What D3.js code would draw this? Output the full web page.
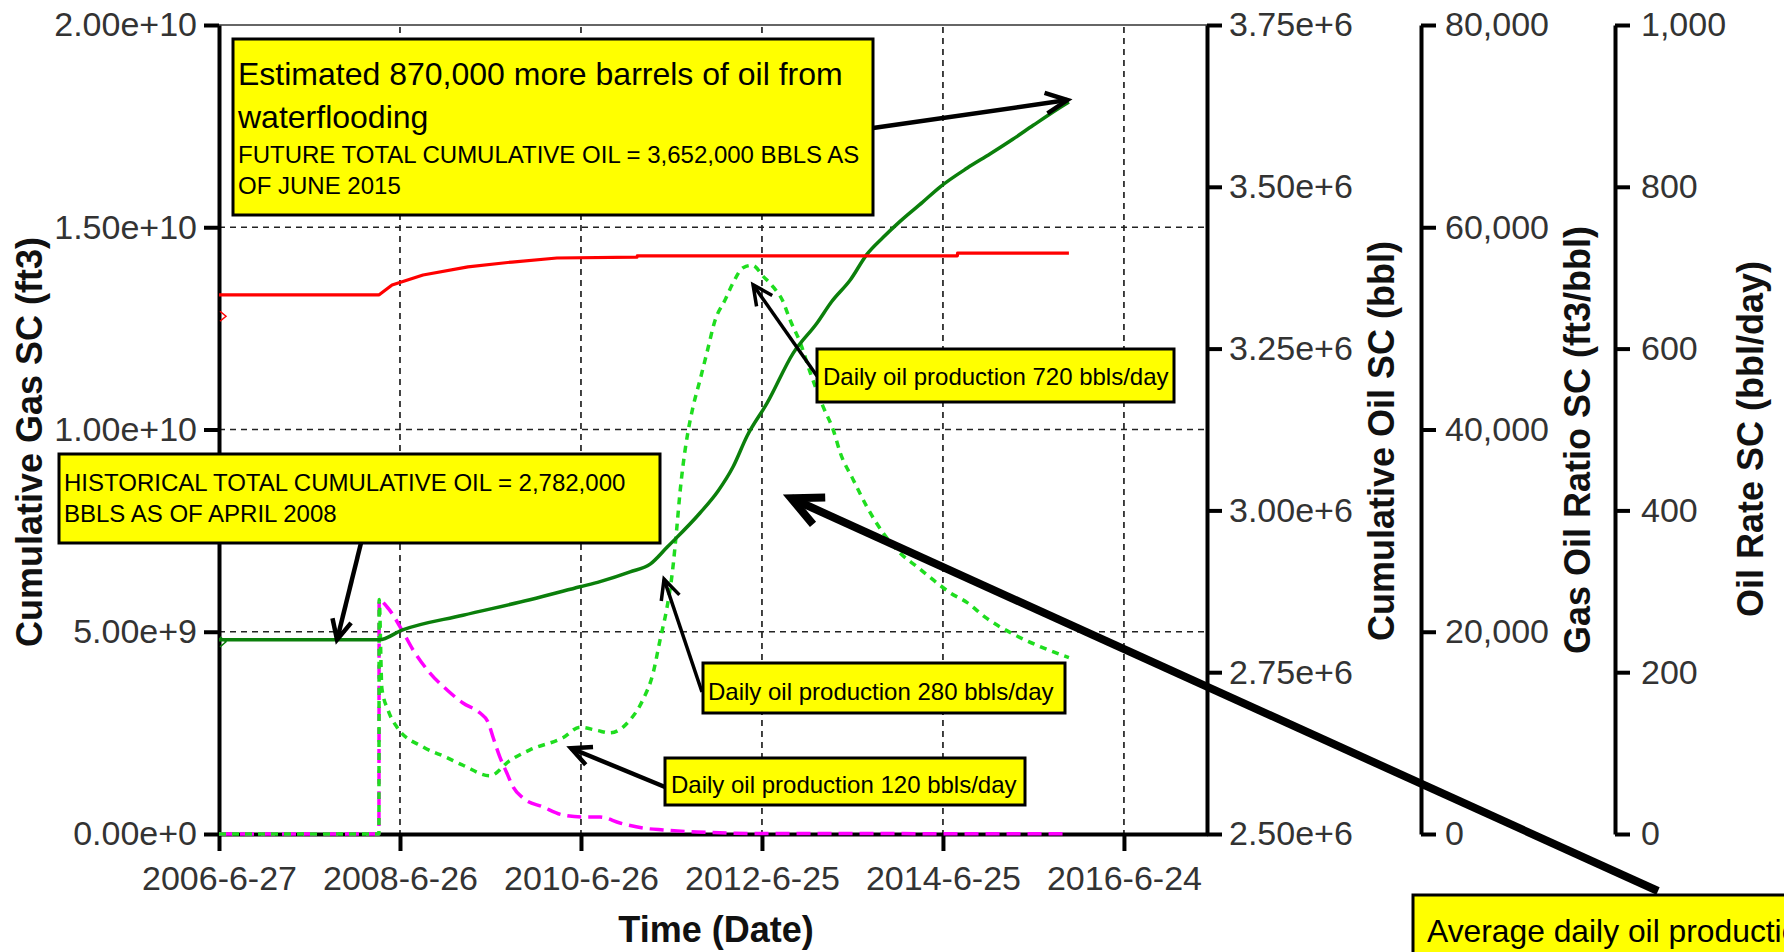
<!DOCTYPE html>
<html><head><meta charset="utf-8">
<script src="https://cdn.jsdelivr.net/npm/d3@7"></script>
<style>body{margin:0;background:#fff}svg{display:block}</style>
</head><body><svg id="c" width="1784" height="952"></svg>
<script>
// ---------- data ----------
const xTickDates = ["2006-06-27","2008-06-26","2010-06-26","2012-06-25","2014-06-25","2016-06-24"];
const gasTicks = [0, 5e9, 1e10, 1.5e10, 2e10];
const cumOilTicks = [2.5e6, 2.75e6, 3.0e6, 3.25e6, 3.5e6, 3.75e6];
const gorTicks = [0, 20000, 40000, 60000, 80000];
const rateTicks = [0, 200, 400, 600, 800, 1000];

// Cumulative Gas SC (ft3)
const cumGas = [
 ["2006-06-27",13.33e9],["2008-04-03",13.33e9],["2008-05-25",13.57e9],["2008-09-27",13.82e9],
 ["2009-03-27",14.02e9],["2009-09-21",14.14e9],["2010-03-21",14.24e9],["2011-02-07",14.26e9],
 ["2011-02-08",14.29e9],["2014-08-22",14.29e9],["2014-08-23",14.36e9],["2015-11-15",14.36e9]
];
// Cumulative Oil SC (bbl)
const cumOil = [
 ["2006-06-27",2.800e6],["2008-04-03",2.800e6],["2008-07-04",2.815e6],["2009-03-07",2.838e6],
 ["2009-12-02",2.862e6],["2010-06-22",2.882e6],["2010-09-11",2.890e6],["2011-01-10",2.905e6],
 ["2011-04-01",2.917e6],["2011-06-08",2.943e6],["2011-10-19",2.996e6],["2011-12-31",3.030e6],
 ["2012-02-29",3.067e6],["2012-04-26",3.115e6],["2012-07-16",3.166e6],["2012-10-29",3.243e6],
 ["2013-02-03",3.290e6],["2013-04-01",3.322e6],["2013-06-16",3.356e6],["2013-08-23",3.396e6],
 ["2013-10-27",3.422e6],["2014-01-04",3.447e6],["2014-04-03",3.476e6],["2014-06-14",3.500e6],
 ["2014-10-01",3.529e6],["2015-01-02",3.551e6],["2015-04-01",3.573e6],["2015-06-24",3.595e6],
 ["2015-10-04",3.621e6],["2015-11-15",3.631e6]
];
// Gas Oil Ratio SC (ft3/bbl)
const gasOilRatio = [
 ["2006-06-27",0],["2008-04-02",0],["2008-04-03",23140],["2008-05-05",22450],["2008-07-04",20170],
 ["2008-08-18",18190],["2008-10-25",15920],["2009-01-02",14240],["2009-03-07",12950],
 ["2009-05-15",11960],["2009-06-16",11080],["2009-07-06",9590],["2009-08-03",7610],
 ["2009-08-31",6030],["2009-09-25",4650],["2009-11-04",3560],["2010-01-24",2670],
 ["2010-04-14",1880],["2010-07-05",1680],["2010-09-11",1680],["2010-11-30",1090],
 ["2011-03-03",590],["2011-05-23",400],["2011-10-07",200],["2012-07-01",50],["2015-11-15",30]
];
// Oil Rate SC (bbl/day)
const oilRate = [
 ["2006-06-27",0],["2008-04-02",0],["2008-04-03",290],["2008-04-14",180],["2008-05-09",153],
 ["2008-06-14",132],["2008-10-01",107],["2008-12-28",95],["2009-03-07",85],["2009-06-24",72],
 ["2009-09-13",91],["2009-12-02",104],["2010-04-14",119],["2010-06-22",132],["2010-08-30",128],
 ["2010-10-21",125],["2011-01-10",141],["2011-03-03",166],["2011-04-13",199],["2011-05-11",240],
 ["2011-06-08",280],["2011-06-29",322],["2011-07-18",380],["2011-07-30",421],["2011-08-11",454],
 ["2011-08-31",496],["2011-09-21",528],["2011-10-19",561],["2011-11-16",595],["2011-12-19",635],
 ["2012-01-28",660],["2012-02-29",681],["2012-04-10",700],["2012-05-17",703],["2012-07-01",689],
 ["2012-08-10",676],["2012-09-15",660],["2012-10-17",635],["2012-11-27",607],["2013-01-06",570],
 ["2013-02-27",528],["2013-04-09",499],["2013-05-07",471],["2013-06-28",438],["2013-08-23",404],
 ["2013-10-27",372],["2014-01-04",347],["2014-03-14",330],["2014-05-17",314],["2014-07-25",298],
 ["2014-10-01",286],["2014-12-12",268],["2015-04-05",247],["2015-07-27",231],["2015-11-15",218]
];
const startMarkers = [["2006-06-27",12.8e9,"#ff0000"],["2006-06-27",4.75e9,"#0b7f0b"]];

// ---------- layout ----------
const W = 1784, H = 952;
const L = 219, R = 1207, T = 25, B = 834;
const FONT = "'Liberation Sans', Arial, Helvetica, sans-serif";
const parse = d3.utcParse("%Y-%m-%d");

const svg = d3.select("#c");
svg.append("rect").attr("width", W).attr("height", H).attr("fill", "#fff");

const x = d3.scaleUtc().domain([parse("2006-06-27"), parse("2017-05-25")]).range([L, R]);
const yGas = d3.scaleLinear().domain([0, 2e10]).range([B, T]);
const yOil = d3.scaleLinear().domain([2.5e6, 3.75e6]).range([B, T]);
const yGor = d3.scaleLinear().domain([0, 80000]).range([B, T]);
const yRate = d3.scaleLinear().domain([0, 1000]).range([B, T]);
const xTicks = xTickDates.map(parse);

// grid
const grid = svg.append("g").attr("stroke", "#222").attr("stroke-width", 1.7).attr("stroke-dasharray", "6,5");
xTicks.slice(1).forEach(d => grid.append("line").attr("x1", x(d)).attr("x2", x(d)).attr("y1", T + 2).attr("y2", B));
gasTicks.slice(1, -1).forEach(v => grid.append("line").attr("x1", L).attr("x2", R).attr("y1", yGas(v)).attr("y2", yGas(v)));
// top frame
svg.append("line").attr("x1", L).attr("x2", R).attr("y1", T).attr("y2", T).attr("stroke", "#333").attr("stroke-width", 1.6);

function styleAxis(g) {
  g.select(".domain").attr("stroke", "#000").attr("stroke-width", 4);
  g.selectAll(".tick line").attr("stroke", "#000").attr("stroke-width", 4);
  g.selectAll(".tick text").attr("fill", "#333").attr("font-size", 34).attr("font-family", FONT);
}
// left axis
const gL = svg.append("g").attr("transform", `translate(${L},0)`)
  .call(d3.axisLeft(yGas).tickValues(gasTicks).tickFormat(d3.format(".2e")).tickSize(15).tickSizeOuter(0).tickPadding(7));
styleAxis(gL);
// bottom axis
const gB = svg.append("g").attr("transform", `translate(0,${B})`)
  .call(d3.axisBottom(x).tickValues(xTicks).tickFormat(d3.utcFormat("%Y-%-m-%-d")).tickSize(17).tickSizeOuter(0).tickPadding(15));
styleAxis(gB);
// right axes
const gO = svg.append("g").attr("transform", `translate(${R},0)`)
  .call(d3.axisRight(yOil).tickValues(cumOilTicks).tickFormat(d3.format(".2e")).tickSize(15).tickSizeOuter(0).tickPadding(7));
styleAxis(gO);
const gG = svg.append("g").attr("transform", `translate(1421,0)`)
  .call(d3.axisRight(yGor).tickValues(gorTicks).tickFormat(d3.format(",")).tickSize(15).tickSizeOuter(0).tickPadding(9));
styleAxis(gG);
const gR = svg.append("g").attr("transform", `translate(1615,0)`)
  .call(d3.axisRight(yRate).tickValues(rateTicks).tickFormat(d3.format(",")).tickSize(15).tickSizeOuter(0).tickPadding(11));
styleAxis(gR);

// axis titles
function title(t, tx, ty, rot) {
  svg.append("text").attr("transform", `translate(${tx},${ty})` + (rot ? " rotate(-90)" : ""))
    .attr("text-anchor", "middle").attr("font-family", FONT).attr("font-weight", "bold")
    .attr("font-size", 36).attr("fill", "#111").text(t);
}
title("Cumulative Gas SC (ft3)", 42, 442, true);
title("Cumulative Oil SC (bbl)", 1394, 441, true);
title("Gas Oil Ratio SC (ft3/bbl)", 1590, 440, true);
title("Oil Rate SC (bbl/day)", 1763, 439, true);
title("Time (Date)", 716, 942, false);

// series
function series(data, y, color, width, dash, curve) {
  const line = d3.line().x(d => x(parse(d[0]))).y(d => y(d[1])).curve(curve || d3.curveLinear);
  svg.append("path").datum(data).attr("d", line).attr("fill", "none")
    .attr("stroke", color).attr("stroke-width", width)
    .attr("stroke-dasharray", dash || null).attr("stroke-linejoin", "round");
}
series(gasOilRatio, yGor, "#ff00ff", 3.5, "14,7", d3.curveMonotoneX);
series(oilRate, yRate, "#1fdd1f", 3.5, "7,6", d3.curveMonotoneX);
series(cumOil, yOil, "#0b7f0b", 3.5, null, d3.curveMonotoneX);
series(cumGas, yGas, "#ff0000", 3.2);
startMarkers.forEach(m => {
  const px = x(parse(m[0])) + 3, py = yGas(m[1]);
  svg.append("path").attr("d", `M${px - 2},${py - 5}L${px + 4},${py}L${px - 2},${py + 5}`)
    .attr("fill", "none").attr("stroke", m[2]).attr("stroke-width", 1.5);
});

// annotations
const yAxes = { gas: yGas, oil: yOil, rate: yRate };
function arrow(x1, y1, x2, y2, w, head) {
  const g = svg.append("g").attr("stroke", "#000").attr("stroke-width", w).attr("stroke-linecap", "butt").attr("fill", "none");
  g.append("line").attr("x1", x1).attr("y1", y1).attr("x2", x2).attr("y2", y2);
  const a = Math.atan2(y1 - y2, x1 - x2), s = 0.45;
  g.append("path").attr("d",
    `M${x2 + head * Math.cos(a + s)},${y2 + head * Math.sin(a + s)}L${x2},${y2}L${x2 + head * Math.cos(a - s)},${y2 + head * Math.sin(a - s)}`)
    .attr("stroke-linejoin", "miter");
}
const notes = [
  { box: [233, 39, 640, 176], tx: 238,
    lines: [["Estimated 870,000 more barrels of oil from", 32, 46], ["waterflooding", 32, 89],
            ["FUTURE TOTAL CUMULATIVE OIL = 3,652,000 BBLS AS", 24, 124], ["OF JUNE 2015", 24, 155]],
    from: [873, 128], tip: ["2015-11-09", "oil", 3.634e6], w: 4.5, head: 24 },
  { box: [59, 454, 601, 89], tx: 64,
    lines: [["HISTORICAL TOTAL CUMULATIVE OIL = 2,782,000", 24, 37], ["BBLS AS OF APRIL 2008", 24, 68]],
    from: [361, 543], tip: ["2007-10-16", "oil", 2.80e6], w: 4.5, head: 22 },
  { box: [817, 349, 357, 53], tx: 823, lines: [["Daily oil production 720 bbls/day", 24, 36]],
    from: [817, 376], tip: ["2012-05-20", "rate", 679], w: 3.5, head: 22 },
  { box: [703, 663, 362, 50], tx: 708, lines: [["Daily oil production 280 bbls/day", 24, 37]],
    from: [702, 692], tip: ["2011-05-27", "rate", 315], w: 3.5, head: 22 },
  { box: [665, 758, 360, 47], tx: 671, lines: [["Daily oil production 120 bbls/day", 24, 35]],
    from: [665, 787], tip: ["2010-05-17", "rate", 106], w: 4.5, head: 22 },
  { box: [1413, 895, 420, 80], tx: 1427, lines: [["Average daily oil production", 31.8, 47]],
    from: [1658, 891], tip: ["2012-10-21", "rate", 415], w: 8, head: 34 }
];
notes.forEach(n => {
  const tx = x(parse(n.tip[0])), ty = yAxes[n.tip[1]](n.tip[2]);
  arrow(n.from[0], n.from[1], tx, ty, n.w, n.head);
});
notes.forEach(n => {
  const [bx, by, bw, bh] = n.box;
  svg.append("rect").attr("x", bx).attr("y", by).attr("width", bw).attr("height", bh)
    .attr("fill", "#ffff00").attr("stroke", "#000").attr("stroke-width", 3);
  n.lines.forEach(l => svg.append("text").attr("x", n.tx).attr("y", by + l[2])
    .attr("font-family", FONT).attr("font-size", l[1]).attr("fill", "#000").text(l[0]));
});
</script></body></html>
